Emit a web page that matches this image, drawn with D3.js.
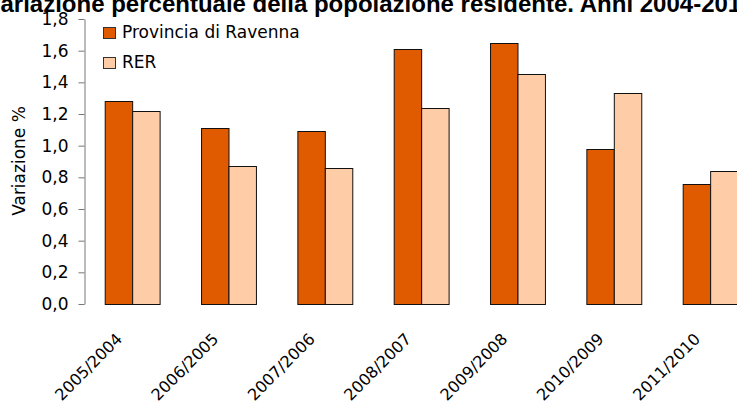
<!DOCTYPE html>
<html>
<head>
<meta charset="utf-8">
<script src="https://cdn.jsdelivr.net/npm/d3@7"></script>
<style>
  html, body { margin: 0; padding: 0; background: #fff; overflow: hidden; }
  svg { display: block; }
</style>
</head>
<body>
<svg id="chart" width="737" height="401"></svg>
<script>
// Percentage change of resident population, year over year
const periods = ["2005/2004", "2006/2005", "2007/2006", "2008/2007", "2009/2008", "2010/2009", "2011/2010"];
const ravenna = [1.28, 1.11, 1.09, 1.61, 1.65, 0.98, 0.76];
const rer     = [1.22, 0.87, 0.86, 1.24, 1.45, 1.33, 0.84];
const seriesNames = ["Provincia di Ravenna", "RER"];
const seriesColors = ["#E05A00", "#FFCCA8"];
const yTicks = [0, 0.2, 0.4, 0.6, 0.8, 1.0, 1.2, 1.4, 1.6, 1.8];
const titleText = "Variazione percentuale della popolazione residente. Anni 2004-2011";
const yLabel = "Variazione %";

const svg = d3.select("#chart");
const font = "'DejaVu Sans', sans-serif";

const left = 84, plotW = 96.33 * periods.length;
const x = d3.scaleBand().domain(periods).range([left, left + plotW]).paddingInner(0.43).paddingOuter(0.215);
const xs = d3.scaleBand().domain(seriesNames).range([0, x.bandwidth()]);
const y = d3.scaleLinear().domain([0, 1.8]).range([304, 19]);

// Title: wide bold heading that runs past both edges of the canvas
const title = svg.append("text")
  .attr("y", 12)
  .style("font-family", "'Liberation Sans', Arial, sans-serif")
  .style("font-weight", "bold")
  .style("font-size", "24px")
  .text(titleText);
const firstGlyph = title.node().getSubStringLength(0, 1);
title.attr("x", -firstGlyph + 0.5);

// Bars
const rows = periods.map((p, i) => ({ period: p, values: [ravenna[i], rer[i]] }));
const groups = svg.append("g").selectAll("g").data(rows).join("g")
  .attr("transform", d => `translate(${x(d.period)},0)`);
groups.selectAll("rect")
  .data(d => d.values.map((v, j) => ({ name: seriesNames[j], value: v, color: seriesColors[j] })))
  .join("rect")
  .attr("x", d => xs(d.name) + 0.5)
  .attr("y", d => Math.round(y(d.value)) + 0.5)
  .attr("width", xs.bandwidth())
  .attr("height", d => 304 - Math.round(y(d.value)))
  .attr("fill", d => d.color)
  .attr("stroke", "#111")
  .attr("stroke-width", 1);

// Y axis
const yAxis = d3.axisLeft(y).tickValues(yTicks)
  .tickFormat(d => d3.format(".1f")(d).replace(".", ","))
  .tickSize(6).tickSizeOuter(0).tickPadding(10);
const gy = svg.append("g").attr("transform", `translate(${left + 0.5},0)`).call(yAxis);
gy.select(".domain").attr("stroke", "#777");
gy.selectAll(".tick line").attr("stroke", "#777");
gy.selectAll(".tick text")
  .style("font-family", font).style("font-size", "17px").attr("fill", "#000");

// Y axis title
svg.append("text")
  .attr("transform", "translate(25,161) rotate(-90)")
  .attr("text-anchor", "middle")
  .style("font-family", font).style("font-size", "17px")
  .text(yLabel);

// X axis labels (no axis line), slanted at 45 degrees
const xAxis = d3.axisBottom(x).tickSize(0).tickPadding(0);
const gx = svg.append("g").attr("transform", "translate(0,340)").call(xAxis);
gx.select(".domain").remove();
gx.selectAll(".tick text")
  .style("font-family", font).style("font-size", "16px").attr("fill", "#000")
  .attr("text-anchor", "end")
  .attr("x", 0).attr("y", 0).attr("dy", 0)
  .attr("transform", "translate(-9,0) rotate(-45)");

// Legend
const legend = svg.append("g").selectAll("g").data(seriesNames).join("g")
  .attr("transform", (d, i) => `translate(103,${27 + i * 30})`);
legend.append("rect")
  .attr("x", 0.5).attr("y", 0.5).attr("width", 12).attr("height", 11)
  .attr("fill", (d, i) => seriesColors[i]).attr("stroke", "#333");
legend.append("text")
  .attr("x", 19).attr("y", 11)
  .style("font-family", font).style("font-size", "17px")
  .text(d => d);
</script>
</body>
</html>
